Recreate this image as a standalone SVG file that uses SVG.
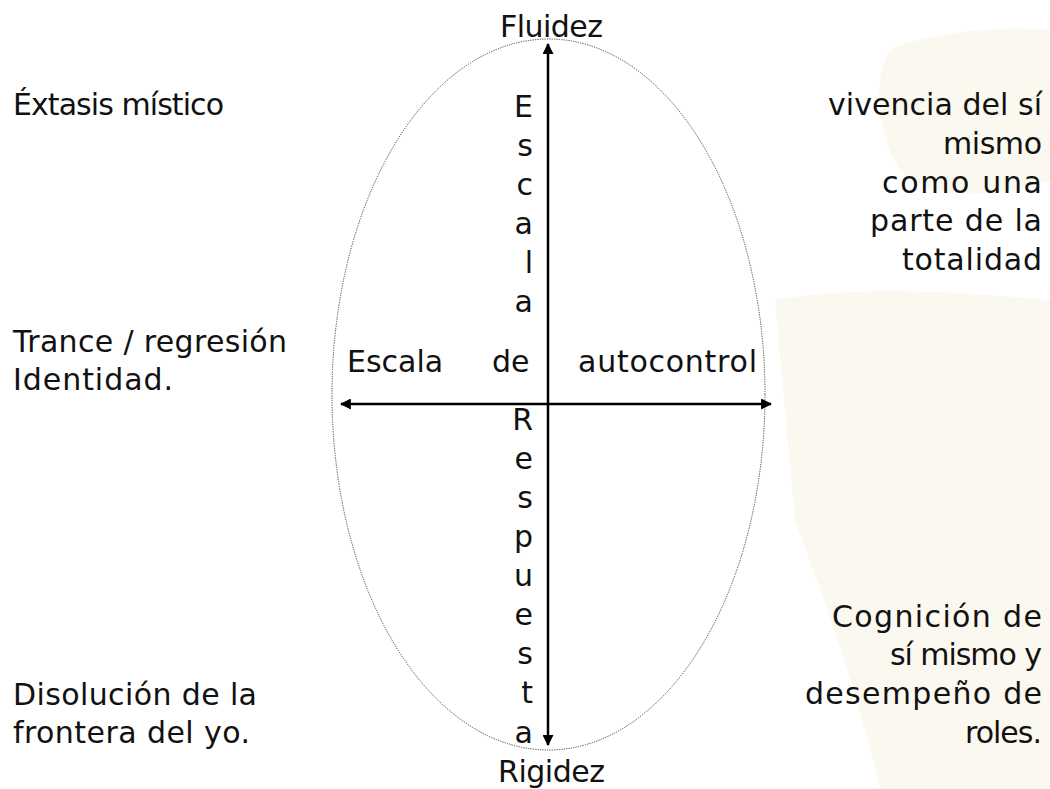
<svg xmlns="http://www.w3.org/2000/svg" width="1050" height="789" viewBox="0 0 1050 789">
<style>
  text { font-family: "DejaVu Sans", "Liberation Sans", sans-serif; font-size: 30px; fill: #111; }
  .r { text-anchor: end; }
  .m { text-anchor: middle; }
  .axis { stroke: #000; stroke-width: 2.5; fill: none; }
  .oval { stroke: #444; stroke-width: 1; stroke-dasharray: 1.2 1.2; fill: none; }
  .wm { fill: #fbf8ef; }
</style>
<defs>
  <marker id="ah" viewBox="0 0 10 10" refX="9" refY="5" markerWidth="4.4" markerHeight="4.4" orient="auto-start-reverse" markerUnits="strokeWidth">
    <path d="M0,0 L10,5 L0,10 z" fill="#000"/>
  </marker>
</defs>
<rect width="1050" height="789" fill="#fff"/>
<g id="watermark">
  <path class="wm" d="M890,50 C870,80 880,140 900,170 C930,200 990,200 1050,180 L1050,30 C990,25 920,35 890,50 Z"/>
  <path class="wm" d="M775,300 C860,285 960,292 1050,300 L1050,789 L880,789 C860,700 825,600 795,520 Z"/>
</g>
<g id="connectors">
  <ellipse id="oval" class="oval" cx="548.5" cy="394.5" rx="216.5" ry="355.5"/>
  <line id="axis-vertical" class="axis" x1="548" y1="745" x2="548" y2="44" marker-end="url(#ah)" marker-start="url(#ah)"/>
  <line id="axis-horizontal" class="axis" x1="341" y1="404" x2="771" y2="404" marker-end="url(#ah)" marker-start="url(#ah)"/>
</g>
<g id="fluidez"><text class="m" x="551.5" y="37" textLength="103" lengthAdjust="spacing">Fluidez</text></g>
<g id="rigidez"><text class="m" x="551.5" y="782" textLength="107" lengthAdjust="spacing">Rigidez</text></g>
<g id="extasis"><text x="13" y="115" textLength="211" lengthAdjust="spacing">Éxtasis místico</text></g>
<g id="trance">
  <text x="13" y="352" textLength="274" lengthAdjust="spacing">Trance / regresión</text>
  <text x="13" y="390" textLength="160" lengthAdjust="spacing">Identidad.</text>
</g>
<g id="disolucion">
  <text x="13" y="705" textLength="244" lengthAdjust="spacing">Disolución de la</text>
  <text x="13" y="743" textLength="237" lengthAdjust="spacing">frontera del yo.</text>
</g>
<g id="vivencia">
  <text class="r" x="1042" y="115" textLength="214" lengthAdjust="spacing">vivencia del sí</text>
  <text class="r" x="1042" y="154" textLength="99" lengthAdjust="spacing">mismo</text>
  <text class="r" x="1042" y="193" textLength="160" lengthAdjust="spacing">como una</text>
  <text class="r" x="1042" y="231" textLength="172" lengthAdjust="spacing">parte de la</text>
  <text class="r" x="1042" y="270" textLength="140" lengthAdjust="spacing">totalidad</text>
</g>
<g id="cognicion">
  <text class="r" x="1042" y="627" textLength="210" lengthAdjust="spacing">Cognición de</text>
  <text class="r" x="1042" y="665" textLength="152" lengthAdjust="spacing">sí mismo y</text>
  <text class="r" x="1042" y="704" textLength="237" lengthAdjust="spacing">desempeño de</text>
  <text class="r" x="1042" y="743" textLength="77" lengthAdjust="spacing">roles.</text>
</g>
<g id="escala-autocontrol">
  <text x="347" y="372">Escala</text>
  <text x="492" y="372">de</text>
  <text x="578" y="372" textLength="179" lengthAdjust="spacing">autocontrol</text>
</g>
<g id="escala-respuesta">
  <text class="r" x="533" y="117">E</text>
  <text class="r" x="533" y="156">s</text>
  <text class="r" x="533" y="195">c</text>
  <text class="r" x="533" y="234">a</text>
  <text class="r" x="533" y="273">l</text>
  <text class="r" x="533" y="312">a</text>
  <text class="r" x="533" y="430">R</text>
  <text class="r" x="533" y="469">e</text>
  <text class="r" x="533" y="508">s</text>
  <text class="r" x="533" y="547">p</text>
  <text class="r" x="533" y="586">u</text>
  <text class="r" x="533" y="625">e</text>
  <text class="r" x="533" y="664">s</text>
  <text class="r" x="533" y="703">t</text>
  <text class="r" x="533" y="743">a</text>
</g>
</svg>
